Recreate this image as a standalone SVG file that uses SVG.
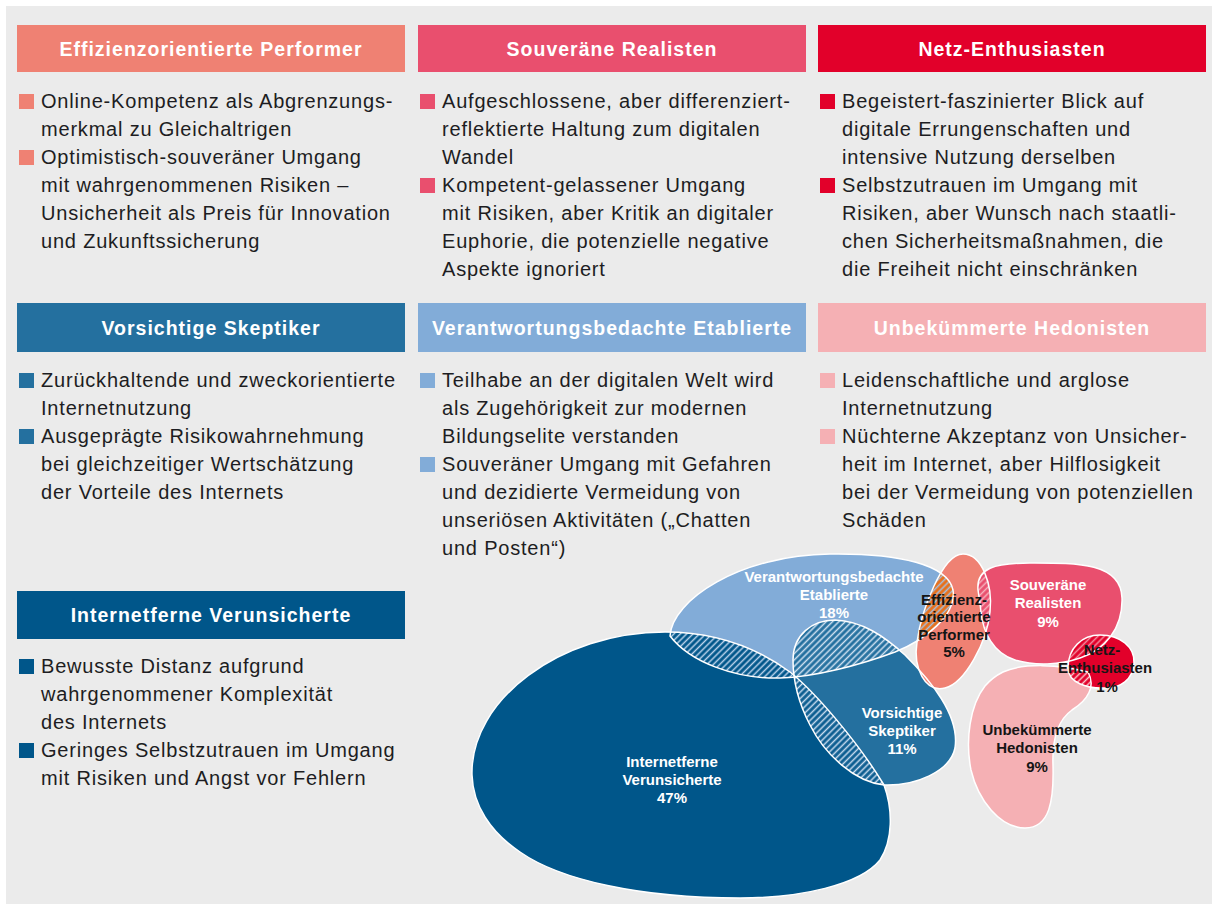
<svg xmlns="http://www.w3.org/2000/svg" xmlns:xlink="http://www.w3.org/1999/xlink" width="1212" height="904" viewBox="0 0 1212 904">
<style>
.hd{font-family:"Liberation Sans",Arial,sans-serif;font-weight:bold;font-size:19.5px;fill:#fff;letter-spacing:1px;text-anchor:middle}
.tx{font-family:"Liberation Sans",Arial,sans-serif;font-size:20px;fill:#1d1d22;letter-spacing:0.8px}
.lb{font-family:"Liberation Sans",Arial,sans-serif;font-weight:bold;font-size:15px;text-anchor:middle}
.lw{fill:#fff}
.lk{fill:#151515}
.ol{fill:none;stroke:#fff;stroke-width:1.5}
</style>
<defs>
<path id="sIV" d="M 472,775 C 470,700 560,632 665,632 C 720,632 760,650 790,672 C 815,692 858,742 884,785 C 893,810 893,840 880,860 C 860,885 800,898 740,898 C 640,898 560,880 520,852 C 490,832 473,805 472,775 Z"/>
<path id="sVE" d="M 670,636 C 672,600 740,555 830,554 C 900,553 948,565 953,590 C 957,615 925,640 895,652 C 860,665 815,677 780,678 C 735,679 690,662 670,636 Z"/>
<path id="sVS" d="M 793,660 C 793,635 812,620 835,620 C 862,621 884,636 905,655 C 930,680 960,715 955,748 C 950,772 915,786 884,785 C 855,782 825,755 810,725 C 798,702 793,680 793,660 Z"/>
<path id="sEP" d="M 963,554 C 982,554 993,585 990,612 C 987,642 965,683 945,688 C 925,693 913,668 917,642 C 921,612 942,554 963,554 Z"/>
<path id="sSR" d="M 978,590 C 976,568 995,563 1030,563 C 1075,563 1121,562 1122,598 C 1123,628 1105,650 1080,658 C 1060,665 1035,666 1015,660 C 993,653 983,632 981,612 C 980,603 979,596 978,590 Z"/>
<path id="sNE" d="M 1068,668 C 1068,648 1082,635 1100,635 C 1120,635 1135,647 1134,663 C 1133,680 1120,688 1106,688 C 1088,689 1068,683 1068,668 Z"/>
<path id="sUH" d="M 1003,672 C 1022,663 1060,664 1088,672 C 1096,686 1088,700 1072,710 C 1058,720 1052,738 1053,765 C 1054,800 1050,828 1025,828 C 1000,828 978,800 971,770 C 965,740 970,705 985,686 C 991,679 997,675 1003,672 Z"/>
<clipPath id="cIV"><use xlink:href="#sIV"/></clipPath>
<clipPath id="cVE"><use xlink:href="#sVE"/></clipPath>
<clipPath id="cEP"><use xlink:href="#sEP"/></clipPath>
<clipPath id="cSR"><use xlink:href="#sSR"/></clipPath>
<clipPath id="cNE"><use xlink:href="#sNE"/></clipPath>
<pattern id="p1" width="4.5" height="4.5" patternUnits="userSpaceOnUse" patternTransform="rotate(45)"><rect width="4.5" height="4.5" fill="#00568a"/><line x1="2.25" y1="0" x2="2.25" y2="4.5" stroke="#bcd3ec" stroke-width="1.5"/></pattern>
<pattern id="p2" width="4.5" height="4.5" patternUnits="userSpaceOnUse" patternTransform="rotate(45)"><rect width="4.5" height="4.5" fill="#24709f"/><line x1="2.25" y1="0" x2="2.25" y2="4.5" stroke="#d2e2f2" stroke-width="1.5"/></pattern>
<pattern id="p3" width="4.5" height="4.5" patternUnits="userSpaceOnUse" patternTransform="rotate(45)"><rect width="4.5" height="4.5" fill="#0d5e91"/><line x1="2.25" y1="0" x2="2.25" y2="4.5" stroke="#c8dcef" stroke-width="1.5"/></pattern>
<pattern id="p4" width="4.5" height="4.5" patternUnits="userSpaceOnUse" patternTransform="rotate(45)"><rect width="4.5" height="4.5" fill="#e8701a"/><line x1="2.25" y1="0" x2="2.25" y2="4.5" stroke="#a3c0e2" stroke-width="1.5"/></pattern>
<pattern id="p5" width="4.5" height="4.5" patternUnits="userSpaceOnUse" patternTransform="rotate(45)"><rect width="4.5" height="4.5" fill="#e94f6e"/><line x1="2.25" y1="0" x2="2.25" y2="4.5" stroke="#f6b3bd" stroke-width="1.5"/></pattern>
<pattern id="p6" width="4.5" height="4.5" patternUnits="userSpaceOnUse" patternTransform="rotate(45)"><rect width="4.5" height="4.5" fill="#e2002a"/><line x1="2.25" y1="0" x2="2.25" y2="4.5" stroke="#f28fa0" stroke-width="1.5"/></pattern>
<pattern id="p7" width="4.5" height="4.5" patternUnits="userSpaceOnUse" patternTransform="rotate(45)"><rect width="4.5" height="4.5" fill="#e2002a"/><line x1="2.25" y1="0" x2="2.25" y2="4.5" stroke="#f8c4c8" stroke-width="1.5"/></pattern>
</defs>

<rect x="0" y="0" width="1212" height="904" fill="#fff"/>
<rect x="6" y="6" width="1206" height="898" fill="#ebebeb"/>

<g id="card-effizienz">
<rect x="17" y="25" width="388" height="47" fill="#ef8173"/>
<text class="hd" x="211" y="55.5">Effizienzorientierte Performer</text>
<rect x="19" y="94" width="15" height="15" fill="#ef8173"/>
<rect x="19" y="150" width="15" height="15" fill="#ef8173"/>
<text class="tx"><tspan x="41" y="108">Online-Kompetenz als Abgrenzungs-</tspan><tspan x="41" y="136">merkmal zu Gleichaltrigen</tspan><tspan x="41" y="164">Optimistisch-souveräner Umgang</tspan><tspan x="41" y="192">mit wahrgenommenen Risiken –</tspan><tspan x="41" y="220">Unsicherheit als Preis für Innovation</tspan><tspan x="41" y="248">und Zukunftssicherung</tspan></text>
</g>

<g id="card-souveraene">
<rect x="418" y="25" width="388" height="47" fill="#e94f6e"/>
<text class="hd" x="612" y="55.5">Souveräne Realisten</text>
<rect x="420" y="94" width="15" height="15" fill="#e94f6e"/>
<rect x="420" y="178" width="15" height="15" fill="#e94f6e"/>
<text class="tx"><tspan x="442" y="108">Aufgeschlossene, aber differenziert-</tspan><tspan x="442" y="136">reflektierte Haltung zum digitalen</tspan><tspan x="442" y="164">Wandel</tspan><tspan x="442" y="192">Kompetent-gelassener Umgang</tspan><tspan x="442" y="220">mit Risiken, aber Kritik an digitaler</tspan><tspan x="442" y="248">Euphorie, die potenzielle negative</tspan><tspan x="442" y="276">Aspekte ignoriert</tspan></text>
</g>

<g id="card-netz">
<rect x="818" y="25" width="388" height="47" fill="#e2002a"/>
<text class="hd" x="1012" y="55.5">Netz-Enthusiasten</text>
<rect x="820" y="94" width="15" height="15" fill="#e2002a"/>
<rect x="820" y="178" width="15" height="15" fill="#e2002a"/>
<text class="tx"><tspan x="842" y="108">Begeistert-faszinierter Blick auf</tspan><tspan x="842" y="136">digitale Errungenschaften und</tspan><tspan x="842" y="164">intensive Nutzung derselben</tspan><tspan x="842" y="192">Selbstzutrauen im Umgang mit</tspan><tspan x="842" y="220">Risiken, aber Wunsch nach staatli-</tspan><tspan x="842" y="248">chen Sicherheitsmaßnahmen, die</tspan><tspan x="842" y="276">die Freiheit nicht einschränken</tspan></text>
</g>

<g id="card-skeptiker">
<rect x="17" y="303" width="388" height="49" fill="#24709f"/>
<text class="hd" x="211" y="334.5">Vorsichtige Skeptiker</text>
<rect x="19" y="373" width="15" height="15" fill="#24709f"/>
<rect x="19" y="429" width="15" height="15" fill="#24709f"/>
<text class="tx"><tspan x="41" y="387">Zurückhaltende und zweckorientierte</tspan><tspan x="41" y="415">Internetnutzung</tspan><tspan x="41" y="443">Ausgeprägte Risikowahrnehmung</tspan><tspan x="41" y="471">bei gleichzeitiger Wertschätzung</tspan><tspan x="41" y="499">der Vorteile des Internets</tspan></text>
</g>

<g id="card-etablierte">
<rect x="418" y="303" width="388" height="49" fill="#82acd8"/>
<text class="hd" x="612" y="334.5">Verantwortungsbedachte Etablierte</text>
<rect x="420" y="373" width="15" height="15" fill="#82acd8"/>
<rect x="420" y="457" width="15" height="15" fill="#82acd8"/>
<text class="tx"><tspan x="442" y="387">Teilhabe an der digitalen Welt wird</tspan><tspan x="442" y="415">als Zugehörigkeit zur modernen</tspan><tspan x="442" y="443">Bildungselite verstanden</tspan><tspan x="442" y="471">Souveräner Umgang mit Gefahren</tspan><tspan x="442" y="499">und dezidierte Vermeidung von</tspan><tspan x="442" y="527">unseriösen Aktivitäten („Chatten</tspan><tspan x="442" y="555">und Posten“)</tspan></text>
</g>

<g id="card-hedonisten">
<rect x="818" y="303" width="388" height="49" fill="#f5b0b4"/>
<text class="hd" x="1012" y="334.5">Unbekümmerte Hedonisten</text>
<rect x="820" y="373" width="15" height="15" fill="#f5b0b4"/>
<rect x="820" y="429" width="15" height="15" fill="#f5b0b4"/>
<text class="tx"><tspan x="842" y="387">Leidenschaftliche und arglose</tspan><tspan x="842" y="415">Internetnutzung</tspan><tspan x="842" y="443">Nüchterne Akzeptanz von Unsicher-</tspan><tspan x="842" y="471">heit im Internet, aber Hilflosigkeit</tspan><tspan x="842" y="499">bei der Vermeidung von potenziellen</tspan><tspan x="842" y="527">Schäden</tspan></text>
</g>

<g id="card-verunsicherte">
<rect x="17" y="591" width="388" height="48" fill="#00568a"/>
<text class="hd" x="211" y="622">Internetferne Verunsicherte</text>
<rect x="19" y="659" width="15" height="15" fill="#00568a"/>
<rect x="19" y="743" width="15" height="15" fill="#00568a"/>
<text class="tx"><tspan x="41" y="673">Bewusste Distanz aufgrund</tspan><tspan x="41" y="701">wahrgenommener Komplexität</tspan><tspan x="41" y="729">des Internets</tspan><tspan x="41" y="757">Geringes Selbstzutrauen im Umgang</tspan><tspan x="41" y="785">mit Risiken und Angst vor Fehlern</tspan></text>
</g>

<g id="blob-verunsicherte"><use xlink:href="#sIV" fill="#00568a"/></g>
<g id="blob-etablierte"><use xlink:href="#sVE" fill="#82acd8"/></g>
<g id="blob-skeptiker"><use xlink:href="#sVS" fill="#24709f"/></g>
<g id="blob-effizienz"><use xlink:href="#sEP" fill="#ef8173"/></g>
<g id="blob-souveraene"><use xlink:href="#sSR" fill="#e94f6e"/></g>
<g id="blob-hedonisten"><use xlink:href="#sUH" fill="#f5b0b4"/></g>
<g id="blob-netz"><use xlink:href="#sNE" fill="#e2002a"/></g>

<g id="overlaps">
<g clip-path="url(#cIV)"><use xlink:href="#sVE" fill="url(#p1)"/></g>
<g clip-path="url(#cIV)"><use xlink:href="#sVS" fill="url(#p3)"/></g>
<g clip-path="url(#cVE)"><use xlink:href="#sVS" fill="url(#p2)"/></g>
<g clip-path="url(#cVE)"><use xlink:href="#sEP" fill="url(#p4)"/></g>
<g clip-path="url(#cEP)"><use xlink:href="#sSR" fill="url(#p5)"/></g>
<g clip-path="url(#cSR)"><use xlink:href="#sNE" fill="url(#p6)"/></g>
<g clip-path="url(#cNE)"><use xlink:href="#sUH" fill="url(#p7)"/></g>
</g>

<g id="outlines">
<use xlink:href="#sIV" class="ol"/>
<use xlink:href="#sVE" class="ol"/>
<use xlink:href="#sVS" class="ol"/>
<use xlink:href="#sEP" class="ol"/>
<use xlink:href="#sSR" class="ol"/>
<use xlink:href="#sUH" class="ol"/>
<use xlink:href="#sNE" class="ol"/>
</g>

<g id="connectors"></g>

<g id="labels">
<text class="lb lw"><tspan x="834" y="582">Verantwortungsbedachte</tspan><tspan x="834" y="600">Etablierte</tspan><tspan x="834" y="618">18%</tspan></text>
<text class="lb lw"><tspan x="672" y="767">Internetferne</tspan><tspan x="672" y="785">Verunsicherte</tspan><tspan x="672" y="803">47%</tspan></text>
<text class="lb lw"><tspan x="902" y="718">Vorsichtige</tspan><tspan x="902" y="736">Skeptiker</tspan><tspan x="902" y="754">11%</tspan></text>
<text class="lb lk"><tspan x="954" y="605">Effizienz-</tspan><tspan x="954" y="622">orientierte</tspan><tspan x="954" y="640">Performer</tspan><tspan x="954" y="657">5%</tspan></text>
<text class="lb lw"><tspan x="1048" y="590">Souveräne</tspan><tspan x="1048" y="608">Realisten</tspan><tspan x="1048" y="627">9%</tspan></text>
<text class="lb lk"><tspan x="1102" y="655">Netz-</tspan><tspan x="1105" y="673">Enthusiasten</tspan><tspan x="1107" y="692">1%</tspan></text>
<text class="lb lk"><tspan x="1037" y="735">Unbekümmerte</tspan><tspan x="1037" y="753">Hedonisten</tspan><tspan x="1037" y="772">9%</tspan></text>
</g>
</svg>
